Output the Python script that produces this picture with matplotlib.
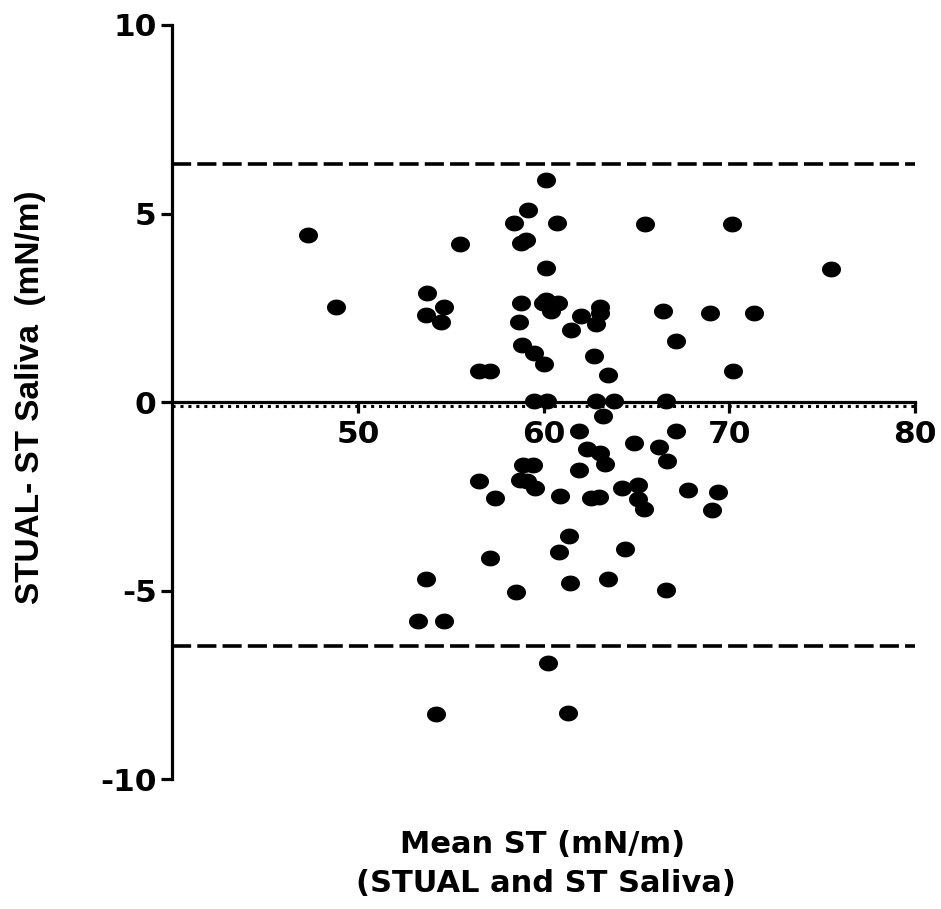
#!/usr/bin/python3
# Bland-Altman plot: STUAL vs ST Saliva

import matplotlib
matplotlib.use('Agg')
import matplotlib.pyplot as plt
import numpy as np
from matplotlib.path import Path

plt.rcParams['font.family'] = ['DejaVu Sans']
plt.rcParams['font.weight'] = 'bold'

# mean of the two methods (mN/m)
mean_st = [47.3, 48.8, 55.5, 53.7, 54.6, 53.65, 54.45, 56.5, 57.1, 60.1,
           59.15, 58.4, 60.7, 59.05, 58.75, 60.1, 58.8, 60.1, 59.95, 60.75,
           60.4, 58.65, 58.85, 59.45, 60.0, 63.05, 63.05, 62.8, 62.0, 61.45,
           62.7, 63.45, 65.45, 70.15, 75.45, 66.4, 68.95, 71.3, 67.1, 70.2,
           59.5, 60.15, 62.8, 63.8, 66.6,
           63.2, 61.9, 62.35, 63.05, 63.3, 61.9, 58.9, 59.4, 58.7, 59.1,
           56.5, 59.55, 57.4, 60.85, 62.55, 63.0, 64.2, 61.35, 60.8, 57.1,
           53.65, 61.4, 63.45, 58.5, 53.2, 54.6, 60.25, 54.2, 61.3, 64.4,
           67.1, 64.85, 66.2, 66.65, 65.1, 65.1, 65.4, 67.75, 69.4, 69.05,
           66.6]
# difference STUAL - ST saliva (mN/m)
diff_st = [4.43, 2.51, 4.20, 2.90, 2.51, 2.32, 2.11, 0.82, 0.82, 5.90,
           5.08, 4.74, 4.74, 4.31, 4.21, 3.55, 2.62, 2.70, 2.63, 2.62,
           2.41, 2.11, 1.51, 1.31, 1.02, 2.53, 2.36, 2.08, 2.27, 1.91,
           1.21, 0.71, 4.73, 4.73, 3.52, 2.41, 2.36, 2.36, 1.63, 0.82,
           0.02, 0.02, 0.02, 0.02, 0.02,
           -0.38, -0.78, -1.25, -1.35, -1.65, -1.80, -1.67, -1.67, -2.07, -2.10,
           -2.09, -2.29, -2.55, -2.50, -2.55, -2.53, -2.29, -3.55, -3.99, -4.13,
           -4.70, -4.81, -4.70, -5.03, -5.80, -5.80, -6.91, -8.28, -8.24, -3.89,
           -0.78, -1.09, -1.20, -1.56, -2.20, -2.58, -2.84, -2.34, -2.39, -2.87,
           -4.98]

bias = -0.1
upper_loa = 6.31
lower_loa = -6.47

# elliptical marker, a bit wider than tall
t = np.linspace(0, 2 * np.pi, 60)
ellipse = Path(np.column_stack([1.2 * np.cos(t), np.sin(t)]), closed=True)

fig = plt.figure(figsize=(9.41, 9.09), dpi=100)
ax = fig.add_axes([0.1833, 0.1430, 0.7891, 0.8295])

ax.plot([40, 80], [upper_loa, upper_loa], color='black', lw=2.6, ls=(0, (5.3, 1.7)))
ax.plot([40, 80], [lower_loa, lower_loa], color='black', lw=2.6, ls=(0, (5.3, 1.7)))
ax.plot([40, 80], [bias, bias], color='black', lw=2.2, ls=(0, (1, 1.6)))

ax.plot(mean_st, diff_st, ls='none', marker=ellipse, markersize=13.7,
        color='black', markeredgewidth=0)

ax.set_xlim(40, 80)
ax.set_ylim(-10, 10)
ax.set_xticks([50, 60, 70, 80])
ax.set_yticks([-10, -5, 0, 5, 10])
ax.set_yticklabels(['-10', '-5', '0', '5', '10'])

ax.spines['right'].set_visible(False)
ax.spines['top'].set_visible(False)
ax.spines['bottom'].set_position(('data', 0))
for s in ['left', 'bottom']:
    ax.spines[s].set_linewidth(2.3)
    ax.spines[s].set_capstyle('projecting')

ax.tick_params(axis='both', length=8, width=2.3, labelsize=22.5, pad=3.5)
ax.tick_params(axis='x', pad=5)
for lab in ax.get_xticklabels() + ax.get_yticklabels():
    lab.set_fontweight('bold')

fig.text(39 / 941, 1 - 397 / 909, 'STUAL- ST Saliva  (mN/m)', rotation=90,
         rotation_mode='anchor', ha='center', va='baseline',
         fontsize=24, fontweight='bold', family=['Liberation Sans', 'DejaVu Sans'])
fig.text(0.577, 1 - 853 / 909, 'Mean ST (mN/m)', ha='center', va='baseline',
         fontsize=22, fontweight='bold')
fig.text(0.580, 1 - 892 / 909, '(STUAL and ST Saliva)', ha='center', va='baseline',
         fontsize=22, fontweight='bold')

fig.savefig('out.png', dpi=100)
